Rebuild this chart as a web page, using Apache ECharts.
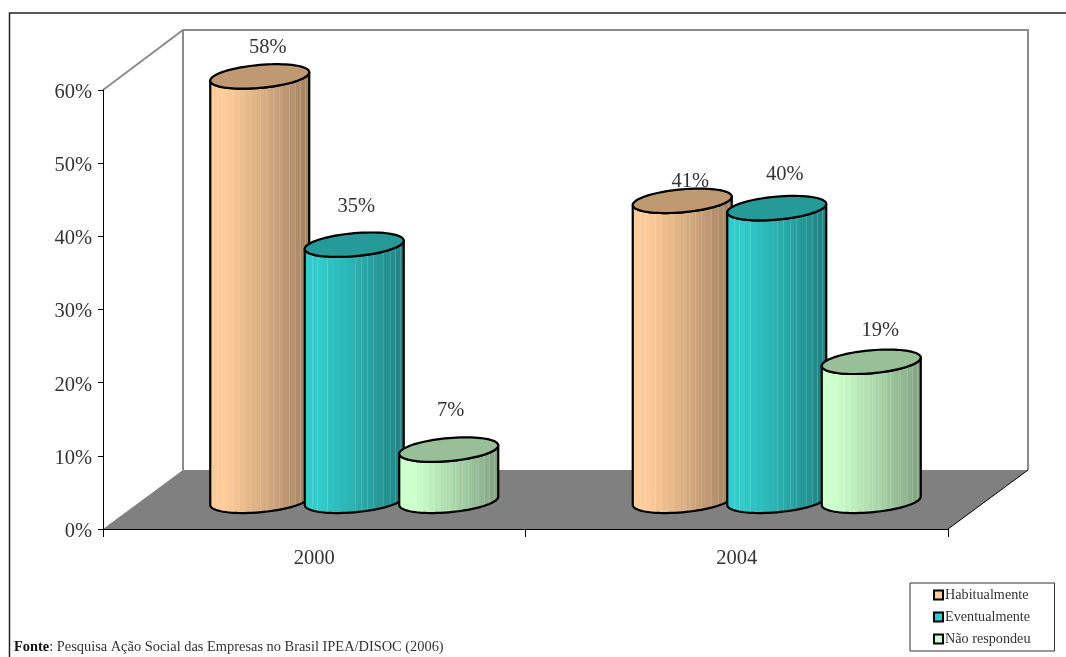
<!DOCTYPE html>
<html>
<head>
<meta charset="utf-8">
<style>html,body{margin:0;padding:0;background:#fff}#c{width:1066px;height:657px}</style>
<script src="https://cdn.jsdelivr.net/npm/echarts@6/dist/echarts.min.js"></script>
</head>
<body>
<div id="c"></div>
<script>
// ---- data ----
const categories = ['2000', '2004'];
const habitualmente = [58, 41];
const eventualmente = [35, 40];
const naoRespondeu = [7, 19];
const seriesNames = ['Habitualmente', 'Eventualmente', 'Não respondeu'];
const yTicks = [0, 10, 20, 30, 40, 50, 60];
const sourceNote = 'Pesquisa Ação Social das Empresas no Brasil IPEA/DISOC (2006)';

// ---- style ----
const FONT = '"Liberation Serif", serif';
const TEXT = '#333333';
const palette = [
  { side: [255, 204, 153], top: '#bf9972', key: '#ffcc99' },
  { side: [51, 204, 204], top: '#269999', key: '#33cccc' },
  { side: [204, 255, 204], top: '#99bf99', key: '#ccffcc' }
];
// value-label nudges around each cylinder's cap, [series][category]
const labelNudge = [
  [[8, -29], [8, -19]],
  [[2, -38], [8, -34]],
  [[2, -39], [9, -31]]
];
const DEPTH_X = 80, DEPTH_Y = 59;     // wall/floor perspective
const COL_W = 99, COL_STEP = 94.5;    // cylinder width & spacing
const TILT = 4.2, CAP_RY = 11.5, BASE_LIFT = 24;

const BANDS = 99;
const paleStripes = [8, 13, 23, 50, 56, 62, 68, 78, 84, 89, 94];
function sideGradient(rgb) {
  const stops = [];
  for (let i = 0; i < BANDS; i++) {
    const t = Math.floor(i / 6) * 6 / (BANDS - 1);
    let f = t < 0.12 ? 1 : 1 - 0.38 * Math.pow((t - 0.12) / 0.88, 1.1);
    const c = rgb.map(v => {
      let x = v * f;
      if (paleStripes.includes(i)) x = x + (255 - x) * 0.16;
      return Math.round(x);
    });
    const col = 'rgb(' + c.join(',') + ')';
    stops.push({ offset: i / BANDS, color: col });
    stops.push({ offset: (i + 1) / BANDS, color: col });
  }
  return { type: 'linear', x: 0, y: 0, x2: 1, y2: 0, colorStops: stops };
}

function ellipsePts(cx, cy, from, to, n) {
  const pts = [];
  for (let i = 0; i <= n; i++) {
    const a = from + (to - from) * i / n;
    pts.push([cx + Math.cos(a) * COL_W / 2, cy - Math.cos(a) * TILT + Math.sin(a) * CAP_RY]);
  }
  return pts;
}

function cylinder(sIdx) {
  return function (params, api) {
    const cat = api.value(0), val = api.value(1);
    const top = api.coord([cat, val]);
    const zero = api.coord([cat, 0]);
    const cx = top[0] + DEPTH_X / 2 + (sIdx - 1) * COL_STEP;
    const baseY = zero[1] - BASE_LIFT - TILT;
    const topY = top[1] - BASE_LIFT - TILT;
    const lower = ellipsePts(cx, baseY, Math.PI, 0, 40);
    const upper = ellipsePts(cx, topY, 0, Math.PI, 40);
    const body = lower.concat(upper);
    const cap = ellipsePts(cx, topY, 0, Math.PI * 2, 80);
    const nudge = labelNudge[sIdx][cat];
    const p = palette[sIdx];
    return {
      type: 'group',
      children: [
        { type: 'polygon', shape: { points: body },
          style: { fill: sideGradient(p.side), stroke: '#000', lineWidth: 2.2, lineJoin: 'round' } },
        { type: 'polygon', shape: { points: cap },
          style: { fill: p.top, stroke: '#000', lineWidth: 2.2 } },
        { type: 'text', x: cx + nudge[0], y: topY + nudge[1],
          style: { text: val + '%', fill: TEXT, font: '20.5px ' + FONT, align: 'center', verticalAlign: 'middle' } }
      ]
    };
  };
}

function room(params) {
  const g = params.coordSys;
  const x0 = g.x, x1 = g.x + g.width, yT = g.y, yB = g.y + g.height;
  const dx = DEPTH_X, dy = DEPTH_Y;
  const wall = { fill: 'none', stroke: '#8c8c8c', lineWidth: 2 };
  return {
    type: 'group',
    children: [
      { type: 'polygon', shape: { points: [[x0, yB], [x1, yB], [x1 + dx, yB - dy], [x0 + dx, yB - dy]] },
        style: { fill: '#808080' } },
      { type: 'polyline', shape: { points: [[x0, yT], [x0 + dx, yT - dy - 1], [x1 + dx, yT - dy - 1], [x1 + dx, yB - dy]] }, style: wall },
      { type: 'line', shape: { x1: x0 + dx, y1: yT - dy - 1, x2: x0 + dx, y2: yB - dy }, style: wall },
      { type: 'line', shape: { x1: x1, y1: yB, x2: x1 + dx, y2: yB - dy }, style: { stroke: '#000', lineWidth: 1 } }
    ]
  };
}

const valueSets = [habitualmente, eventualmente, naoRespondeu];
const chart = echarts.init(document.getElementById('c'), null, { renderer: 'canvas' });
chart.setOption({
  animation: false,
  backgroundColor: '#fff',
  title: {
    text: '{b|Fonte}: ' + sourceNote,
    left: 10, top: 639, padding: [0, 0, 0, 4],
    textStyle: {
      fontFamily: FONT, fontSize: 14.4, fontWeight: 'normal', color: TEXT, lineHeight: 16,
      rich: { b: { fontFamily: FONT, fontSize: 14.4, fontWeight: 'bold', color: '#111', lineHeight: 16 } }
    }
  },
  legend: {
    orient: 'vertical', left: 910, top: 583,
    padding: [5, 24, 5, 23], itemGap: 8, itemWidth: 9, itemHeight: 9,
    backgroundColor: '#fff', borderColor: '#333', borderWidth: 1,
    textStyle: { fontFamily: FONT, fontSize: 14.2, color: TEXT, lineHeight: 14, padding: [0, 0, 0, -3] },
    data: seriesNames.map((n, i) => ({
      name: n, icon: 'rect',
      itemStyle: { color: palette[i].key, borderColor: '#000', borderWidth: 2 }
    }))
  },
  grid: { left: 103, right: 118, top: 90, bottom: 128 },
  xAxis: {
    type: 'category', data: categories, z: 5,
    axisLine: { lineStyle: { color: '#000', width: 1 } },
    axisTick: { show: true, alignWithLabel: false, length: 8, lineStyle: { color: '#000' } },
    axisLabel: { fontFamily: FONT, fontSize: 20.5, color: TEXT, margin: 19 }
  },
  yAxis: {
    type: 'value', min: yTicks[0], max: yTicks[yTicks.length - 1], interval: 10, z: 5,
    splitLine: { show: false },
    axisLine: { show: true, lineStyle: { color: '#000', width: 1 } },
    axisTick: { show: true, length: 5, lineStyle: { color: '#000' } },
    axisLabel: {
      fontFamily: FONT, fontSize: 20.5, color: TEXT, margin: 11,
      formatter: '{v|{value}%}',
      rich: { v: { fontFamily: FONT, fontSize: 20.5, color: TEXT, padding: [5, 0, 0, 0] } }
    }
  },
  graphic: [
    { type: 'polyline', silent: true, shape: { points: [[9.5, 657], [9.5, 13], [1066, 13]] },
      style: { fill: 'none', stroke: '#222', lineWidth: 1.5 } }
  ],
  series: [
    { type: 'custom', name: 'room', silent: true, z: 1, renderItem: room, data: [[0, 0]] }
  ].concat(seriesNames.map((name, i) => ({
    type: 'custom', name, z: 2 + i, silent: true,
    renderItem: cylinder(i),
    encode: { x: 0, y: 1 },
    itemStyle: { color: palette[i].key },
    data: categories.map((c, k) => [k, valueSets[i][k]])
  })))
});
</script>
</body>
</html>
